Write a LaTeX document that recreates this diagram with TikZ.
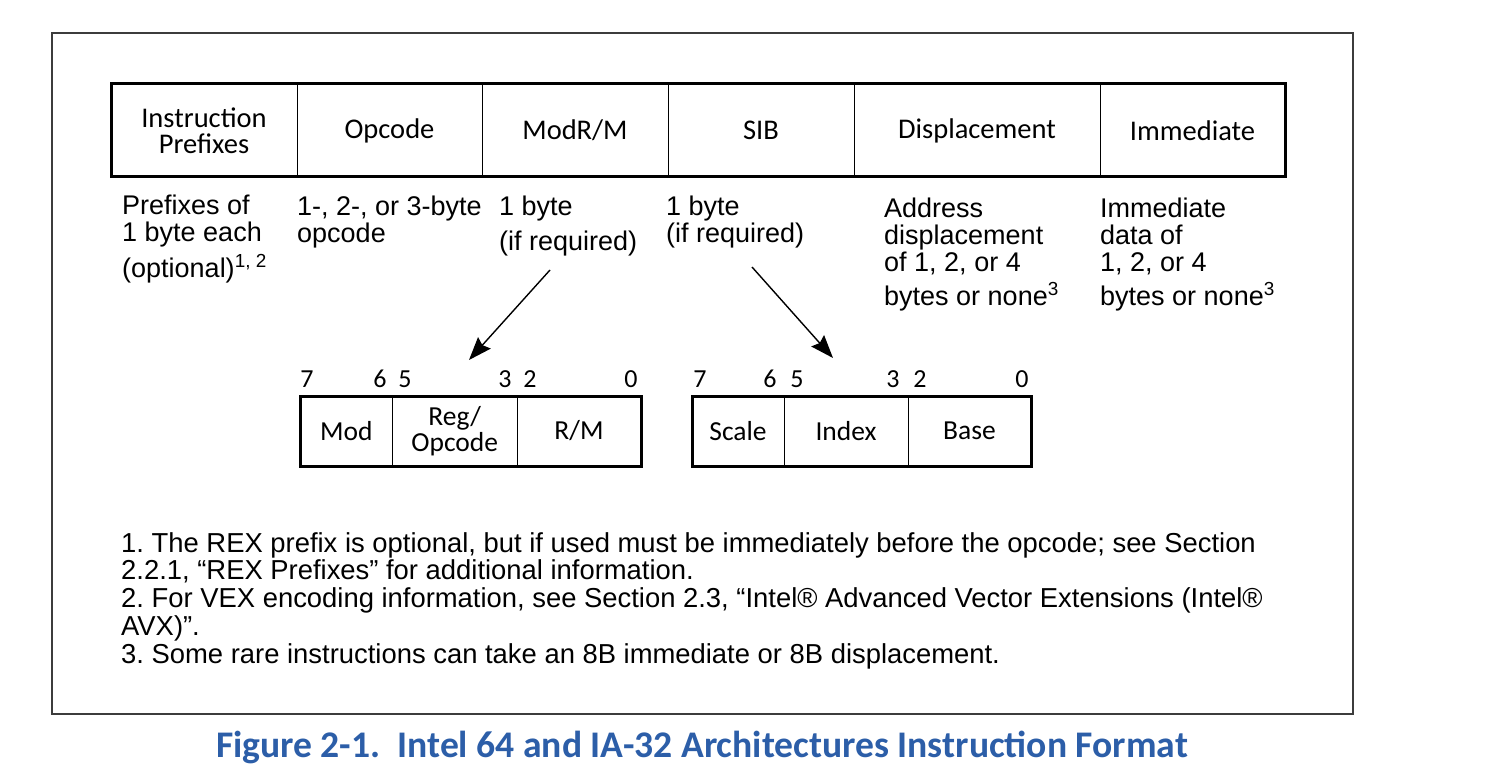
\documentclass[tikz,border=0pt]{standalone}
\usepackage{fontspec}
\setmainfont{Liberation Sans}
\newfontfamily\clearfont{Carlito}
\usetikzlibrary{arrows.meta, positioning}
\definecolor{intelblue}{RGB}{44,94,168}
\definecolor{framegray}{RGB}{60,60,60}
\frenchspacing

\tikzset{
  cell/.style={draw, line width=1pt, outer sep=0pt, inner sep=0pt,
    minimum height=93pt, align=center,
    font=\clearfont\fontsize{28.5}{26}\selectfont},
  field/.style={draw, line width=1pt, outer sep=0pt, inner sep=0pt,
    minimum height=70pt, align=center,
    font=\clearfont\fontsize{27.5}{26}\selectfont},
  % anchored at the baseline of the last line
  note/.style={anchor=base west, inner sep=0pt, align=left,
    font=\fontsize{27}{27}\selectfont},
  bitno/.style={anchor=base, inner sep=0pt,
    font=\clearfont\fontsize{26}{26}\selectfont},
  pointer/.style={-{Stealth[length=23pt, width=17pt, inset=3pt]}, line width=1.4pt},
}

\begin{document}
\begin{tikzpicture}[x=1pt, y=-1pt]
  \useasboundingbox (0,0) rectangle (1494,770);
  \draw[line width=1.5pt, framegray] (52,33) rectangle (1353,714);

  % instruction format
  \node[cell, minimum width=186pt] (pfx) at (204,130.5) {Instruction\\Prefixes};
  \node[cell, minimum width=185pt, right=0pt of pfx] (opc) {Opcode};
  \node[cell, minimum width=186pt, right=0pt of opc] (modrm) {ModR/M};
  \node[cell, minimum width=186pt, right=0pt of modrm] (sib) {SIB};
  \node[cell, minimum width=246pt, right=0pt of sib] (disp) {Displacement};
  \node[cell, minimum width=185pt, right=0pt of disp] (imm) {Immediate};
  \draw[line width=3pt] (pfx.north west) rectangle (imm.south east);

  % field descriptions
  \node[note] (pfxnote) at (122,277) {Prefixes of\\1 byte each\\[7pt](optional)\textsuperscript{1, 2}};
  \node[note] (opcnote) at (297,243) {1-, 2-, or 3-byte\\opcode};
  \node[note] (modrmnote) at (499,251) {1 byte\\[8pt](if required)};
  \node[note] (sibnote) at (666,243) {1 byte\\(if required)};
  \node[note] (dispnote) at (884,305) {Address\\displacement\\of 1, 2, or 4\\[7pt]bytes or none\textsuperscript{3}};
  \node[note] (immnote) at (1100,305) {Immediate\\data of\\1, 2, or 4\\[7pt]bytes or none\textsuperscript{3}};

  % pointers to the byte layouts
  \coordinate (modrmfrom) at (550,270);
  \coordinate (modrmto) at (469,360);
  \coordinate (sibfrom) at (752,267);
  \coordinate (sibto) at (833,358);
  \draw[pointer] (modrmfrom) -- (modrmto);
  \draw[pointer] (sibfrom) -- (sibto);

  % ModR/M and SIB bytes
  \node[field, minimum width=92.5pt] (mod) at (346.25,431) {Mod};
  \node[field, minimum width=124.5pt, right=0pt of mod] (reg) {Reg/\\Opcode};
  \node[field, minimum width=124pt, right=0pt of reg] (rm) {R/M};
  \draw[line width=3pt] (mod.north west) rectangle (rm.south east);
  \node[field, minimum width=92pt] (scale) at (738,431) {Scale};
  \node[field, minimum width=124pt, right=0pt of scale] (index) {Index};
  \node[field, minimum width=123pt, right=0pt of index] (base) {Base};
  \draw[line width=3pt] (scale.north west) rectangle (base.south east);

  \foreach \x/\b [count=\i] in {307/7, 380/6, 405/5, 505/3, 530/2, 631/0,
                                700/7, 770/6, 797/5, 893/3, 920/2, 1022/0}
    \node[bitno] (bit\i) at (\x,387) {\b};

  % footnotes
  \node[note, font=\fontsize{27.4}{27.75}\selectfont] (fn) at (121,663)
    {1. The REX prefix is optional, but if used must be immediately before the opcode; see Section\\
     2.2.1, “REX Prefixes” for additional information.\\
     2. For VEX encoding information, see Section 2.3, “Intel® Advanced Vector Extensions (Intel®\\
     AVX)”.\\
     3. Some rare instructions can take an 8B immediate or 8B displacement.};

  \node[inner sep=0pt, anchor=base, text=intelblue,
        font=\clearfont\bfseries\fontsize{37.6}{38}\selectfont] (caption) at (702,757)
    {Figure 2-1.\hspace{0.45em}Intel 64 and IA-32 Architectures Instruction Format};
\end{tikzpicture}
\end{document}
